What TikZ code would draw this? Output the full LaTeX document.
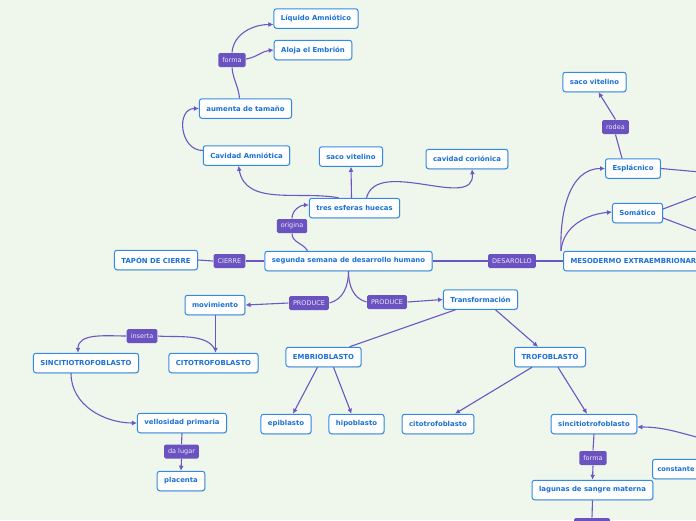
\documentclass[tikz,border=0pt]{standalone}
\usepackage{fontspec}
\setsansfont{DejaVu Sans}
\usetikzlibrary{arrows.meta}
\usetikzlibrary{shadows}

\definecolor{bgcol}{RGB}{239,247,236}
\definecolor{boxline}{RGB}{52,138,226}
\definecolor{boxtext}{RGB}{26,112,214}
\definecolor{tagfill}{RGB}{106,82,192}
\definecolor{linkcol}{RGB}{108,86,196}

\begin{document}
\begin{tikzpicture}
  [x=1pt, y=-1pt, line width=1.1pt, arrows={-Latex[length=5pt,width=5pt]}]
  \tikzset{box/.style={draw=boxline, fill=white, rounded corners=2.5pt, line width=1pt, text=boxtext, font=\sffamily\bfseries\fontsize{6.9}{8}\selectfont, inner xsep=7pt, minimum height=19.5pt, drop shadow={opacity=0.25, shadow xshift=0.6pt, shadow yshift=-0.9pt}}}
  \tikzset{tag/.style={fill=tagfill, rounded corners=1.5pt, text={white!88!tagfill}, font=\sffamily\fontsize{6.5}{7}\selectfont, inner xsep=4pt, minimum height=14pt}}
  \tikzset{link/.style={draw=linkcol, line width=1.1pt}}
  \tikzset{plain/.style={link, arrows=-}}

  \fill[bgcol] (0,0) rectangle (696,520);
  \useasboundingbox (0,0) rectangle (696,520);

  % top branch
  \node [box] (liq) at (316,18.5) {Líquido Amniótico};
  \node [box] (alo) at (313,50) {Aloja el Embrión};
  \node [tag] (tforma1) at (232,60) {forma};
  \node [box] (aum) at (245.5,108.5) {aumenta de tamaño};
  \node [box] (cav) at (246.5,155.5) {Cavidad Amniótica};
  \node [box] (sv1) at (351,156.5) {saco vitelino};
  \node [box] (cor) at (467,159) {cavidad coriónica};
  \node [box] (tres) at (354.5,208) {tres esferas huecas};
  \node [tag] (torig) at (292,226) {origina};

  % centre
  \node [box] (seg) at (348.5,261) {segunda semana de desarrollo humano};
  \node [tag] (tcier) at (229.5,261) {CIERRE};
  \node [box] (tapon) at (156,260) {TAPÓN DE CIERRE};
  \node [tag] (tdes) at (512,261) {DESAROLLO};
  \node [box, anchor=west] (meso) at (563,261) {MESODERMO EXTRAEMBRIONARIO};

  % mesodermo
  \node [box] (sv2) at (594.5,82) {saco vitelino};
  \node [tag] (trodea) at (615.5,127) {rodea};
  \node [box] (espl) at (633,168.5) {Esplácnico};
  \node [box] (soma) at (637.5,213) {Somático};
  \coordinate (r1) at (700,172);
  \coordinate (r2) at (700,195);
  \coordinate (r3) at (700,232);

  % produce
  \node [tag] (tprod1) at (309,303) {PRODUCE};
  \node [tag] (tprod2) at (387,302) {PRODUCE};
  \node [box] (mov) at (215,305) {movimiento};
  \node [box] (trans) at (480.5,299.5) {Transformación};

  % movimiento
  \node [box] (sinc) at (86,363) {SINCITIOTROFOBLASTO};
  \node [box] (cito) at (213.5,363) {CITOTROFOBLASTO};
  \node [tag] (tins) at (142,336) {inserta};
  \node [box] (vell) at (182,423) {vellosidad primaria};
  \node [tag] (tdal) at (181.5,451.5) {da lugar};
  \node [box] (plac) at (181,481) {placenta};

  % transformacion
  \node [box] (embrio) at (323.5,357) {EMBRIOBLASTO};
  \node [box] (trof) at (550,357) {TROFOBLASTO};
  \node [box] (epi) at (286,424) {epiblasto};
  \node [box] (hipo) at (356.5,424) {hipoblasto};
  \node [box] (citot) at (438,424) {citotrofoblasto};
  \node [box] (sincit) at (594,424) {sincitiotrofoblasto};
  \node [tag] (tforma2) at (593,458) {forma};
  \node [box] (lag) at (592.5,490) {lagunas de sangre materna};
  \node [tag, minimum width=36pt] (tlow) at (592,525) {};
  \node [box, anchor=west, inner xsep=5pt, minimum width=60pt, align=left, font=\sffamily\bfseries\fontsize{6.6}{8}\selectfont] (const) at (652,469) {constante\hspace{14pt}};
  \coordinate (r4) at (700,438);

  % aumenta de tamaño
  \draw [plain] ([xshift=-6pt]aum.north) to[out=95,in=-85] (tforma1.south);
  \draw [link] (tforma1.north) to[out=85,in=180] ([yshift=-6pt]liq.west);
  \draw [link] ([yshift=1pt]tforma1.east) to[out=10,in=185] (alo.west);
  \draw [link] ([yshift=5pt]cav.west) to[out=180,in=180,looseness=1.4] (aum.west);

  % tres esferas huecas
  \draw [link] ([xshift=-16pt]tres.north) to[out=170,in=-80] ([xshift=-8pt]cav.south);
  \draw [link] ([xshift=-3pt]tres.north) -- (sv1.south);
  \draw [link] ([xshift=12pt]tres.north) to[out=75,in=-85] ([xshift=5pt]cor.south);

  % segunda semana
  \draw [plain] ([xshift=-41pt]seg.north) to[out=120,in=-90] (torig.south);
  \draw [link] (torig.north) to[out=90,in=180] ([yshift=3pt]tres.west);
  \draw [plain] (seg.west) -- (tcier.east);
  \draw [plain] (tcier.west) -- (tapon.east);
  \draw [plain] (seg.east) -- (tdes.west);
  \draw [plain] (tdes.east) -- (meso.west);
  \draw [plain] (seg.south) to[out=-90,in=15] (tprod1.east);
  \draw [plain] (seg.south) to[out=-90,in=165] (tprod2.west);
  \draw [link] (tprod1.west) -- (mov.east);
  \draw [link] (tprod2.east) -- (trans.west);

  % mesodermo
  \draw [link] ([xshift=-2pt]meso.north west) to[out=92,in=180] (espl.west);
  \draw [link] ([xshift=-2pt]meso.north west) to[out=85,in=185] ([yshift=1pt]soma.west);
  \draw [plain] ([xshift=-11pt]espl.north) -- (trodea.south);
  \draw [link] (trodea.north) -- ([xshift=4pt]sv2.south);
  \draw [plain] (espl.east) -- (r1);
  \draw [plain] ([yshift=4pt]soma.east) -- (r2);
  \draw [plain] ([yshift=-5pt]soma.east) -- (r3);

  % movimiento
  \draw [link] ([xshift=0.5pt]mov.south) -- ([xshift=0.5pt]mov.south |- cito.north);
  \draw [plain] ([yshift=3pt]mov.south |- cito.north) to[out=115,in=-5,looseness=0.8] (tins.east);
  \draw [link] (tins.west) to[out=180,in=90] ([xshift=-8pt]sinc.north);
  \draw [link] ([xshift=-15pt]sinc.south) to[out=-90,in=180] (vell.west);
  \draw [plain] (vell.south) -- (tdal.north);
  \draw [link] (tdal.south) -- (plac.north);

  % transformacion
  \draw [plain] ([xshift=-25pt]trans.south) -- ([xshift=-12pt]embrio.north east);
  \draw [link] ([xshift=15pt]trans.south) -- ([xshift=-12pt]trof.north);
  \draw [link] ([xshift=-6pt]embrio.south) -- ([xshift=7pt]epi.north);
  \draw [link] ([xshift=10pt]embrio.south) -- ([xshift=-5pt]hipo.north);
  \draw [link] ([xshift=-18pt]trof.south) -- ([xshift=17pt]citot.north);
  \draw [link] ([xshift=8pt]trof.south) -- ([xshift=-7pt]sincit.north);
  \draw [plain] (sincit.south) -- (tforma2.north);
  \draw [link] (tforma2.south) -- (lag.north);
  \draw [plain] (lag.south) -- (tlow.north);
  \draw [link] (r4) to[out=165,in=0] ([yshift=-3pt]sincit.east);
\end{tikzpicture}
\end{document}
